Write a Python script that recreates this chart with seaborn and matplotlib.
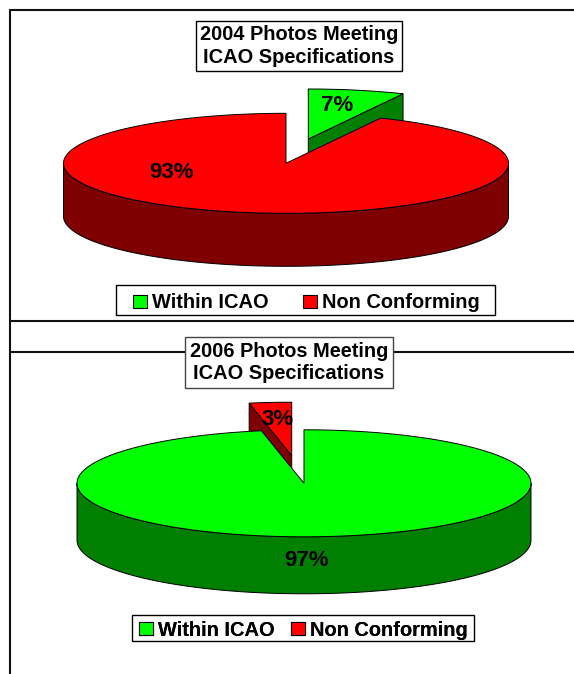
import numpy as np
import seaborn as sns
import matplotlib
matplotlib.use('Agg')
import matplotlib.pyplot as plt
from matplotlib.patches import Patch, Rectangle

categories = ['Within ICAO', 'Non Conforming']
shares_2004 = [7, 93]
shares_2006 = [97, 3]
title_2004 = '2004 Photos Meeting\nICAO Specifications'
title_2006 = '2006 Photos Meeting\nICAO Specifications'

top_colors = ['#00ff00', '#ff0000']
side_colors = ['#007f00', '#7f0000']

sns.set_theme(style='white')
plt.rcParams['font.family'] = ['Liberation Sans', 'DejaVu Sans']


def arc(cx, cy, rx, ry, a0, a1):
    # angles in degrees, clockwise from 12 o'clock
    t = np.radians(np.linspace(a0, a1, 400))
    return cx + rx*np.sin(t), cy - ry*np.cos(t)


def draw_pie(ax, shares, cx, cy, rx, ry, depth, out, offset):
    total = sum(shares)
    ends = np.cumsum(shares)/total*360
    starts = ends - np.array(shares)/total*360
    inner = 1 - out

    # pulled out slice goes first so the main slice covers it
    a0, a1 = starts[out], ends[out]
    ox, oy = cx + offset[0], cy + offset[1]
    x, y = arc(ox, oy, rx, ry, a0, a1)
    # the wall that faces the viewer
    ex = x[0] if out == 1 else x[-1]
    ey = y[0] if out == 1 else y[-1]
    ax.fill([ox, ex, ex, ox], [oy, ey, ey+depth, oy+depth],
            color=side_colors[out], ec='black', lw=0.7, zorder=1)
    ax.fill(np.r_[ox, x], np.r_[oy, y], color=top_colors[out], ec='black', lw=0.7, zorder=2)

    # side of the main slice, front half only
    x, y = arc(cx, cy, rx, ry, 90, 270)
    ax.fill(np.r_[x, x[::-1]], np.r_[y, y[::-1]+depth],
            color=side_colors[inner], ec='black', lw=0.7, zorder=3)
    x, y = arc(cx, cy, rx, ry, starts[inner], ends[inner])
    ax.fill(np.r_[cx, x], np.r_[cy, y], color=top_colors[inner], ec='black', lw=0.7, zorder=4)


def add_legend(ax, box, center, spacing):
    x0, y0, x1, y1 = box
    ax.add_patch(Rectangle((x0, y0), x1-x0, y1-y0, fc='white', ec='black', lw=1.0, zorder=5))
    handles = [Patch(facecolor=c, edgecolor='black', lw=0.8) for c in top_colors]
    leg = ax.legend(handles, categories, ncol=2, loc='center', bbox_to_anchor=center,
                    bbox_transform=ax.transData, prop={'size': 14.4, 'weight': 'bold'},
                    frameon=False, labelcolor='black', borderaxespad=0, borderpad=0,
                    handlelength=0.7, handleheight=0.6, handletextpad=0.25,
                    columnspacing=spacing, labelspacing=0)
    leg.set_zorder(6)
    ax.add_artist(leg)


fig = plt.figure(figsize=(5.74, 6.74), dpi=100)
ax = fig.add_axes([0, 0, 1, 1])
ax.set_xlim(0, 574)
ax.set_ylim(674, 0)
ax.set_axis_off()

# panel frame lines
ax.plot([10, 10], [674, 10], color='#111111', lw=1.5, zorder=0)
ax.plot([10, 574], [10, 10], color='#111111', lw=1.5, zorder=0)
ax.plot([10, 574], [321, 321], color='#111111', lw=1.5, zorder=0)
ax.plot([10, 574], [352, 352], color='#111111', lw=1.5, zorder=0)

draw_pie(ax, shares_2004, 286, 163.3, 222.5, 50, 53, 0, (22.3, -24.3))
draw_pie(ax, shares_2006, 304, 483.3, 227, 53.5, 57, 1, (-12.3, -27.6))

ax.text(299, 46, title_2004, ha='center', va='center', fontsize=14.4, fontweight='bold',
        color='black', linespacing=1.22, zorder=6,
        bbox=dict(boxstyle='square,pad=0.2', fc='white', ec='black', lw=1.0))
ax.text(289, 362.5, title_2006, ha='center', va='center', fontsize=14.4, fontweight='bold',
        color='black', linespacing=1.22, zorder=6,
        bbox=dict(boxstyle='square,pad=0.26', fc='white', ec='#444444', lw=1.0))

label_style = dict(ha='center', va='center', fontsize=16, fontweight='bold', color='black', zorder=7)
ax.text(337, 105.5, f'{shares_2004[0]}%', **label_style)
ax.text(172, 172.5, f'{shares_2004[1]}%', **label_style)
ax.text(307, 560.5, f'{shares_2006[0]}%', **label_style)
ax.text(278, 419.5, f'{shares_2006[1]}%', **label_style)

add_legend(ax, (116, 285, 495, 315), (306.5, 303), 1.7)
add_legend(ax, (131.5, 615, 474, 641), (303.5, 630), 0.8)

fig.savefig('out.png', dpi=100)
